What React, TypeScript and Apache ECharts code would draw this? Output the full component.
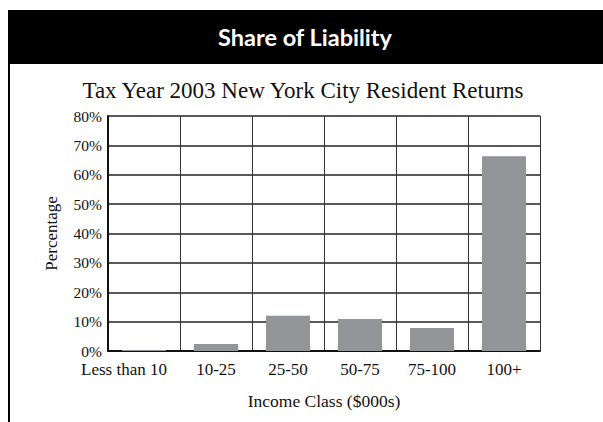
import React, { useEffect, useRef } from "react";
import * as echarts from "echarts";

const categories = ["Less than 10", "10-25", "25-50", "50-75", "75-100", "100+"];
const shareValues = [0.3, 2.4, 12.0, 10.9, 7.8, 66.3];
const yTicks = { min: 0, max: 80, interval: 10 };

const serif = "'Liberation Serif', 'DejaVu Serif', serif";

export default function App() {
  const ref = useRef<HTMLDivElement>(null);
  useEffect(() => {
    if (!ref.current) return;
    const chart = echarts.init(ref.current, undefined, { renderer: "svg" });
    chart.setOption({
      animation: false,
      backgroundColor: "#ffffff",
      graphic: [
        { type: "rect", shape: { x: 8, y: 10, width: 595, height: 54 }, style: { fill: "#000" }, silent: true },
        { type: "rect", shape: { x: 8, y: 64, width: 2, height: 358 }, style: { fill: "#000" }, silent: true },
        {
          type: "text",
          x: 305,
          y: 37,
          style: {
            text: "Share of Liability",
            fill: "#fff",
            font: "bold 23.5px Lato, 'Open Sans', sans-serif",
            textAlign: "center",
            textVerticalAlign: "middle",
          },
        },
        {
          type: "text",
          x: 303,
          y: 90,
          style: {
            text: "Tax Year 2003 New York City Resident Returns",
            fill: "#111",
            font: `23px ${serif}`,
            textAlign: "center",
            textVerticalAlign: "middle",
          },
        },
      ],
      grid: { left: 108, top: 116, right: 63, bottom: 71, containLabel: false },
      xAxis: {
        type: "category",
        data: categories.map((c, i) =>
          i === 0 ? { value: c, textStyle: { padding: [0, 40, 0, 0] } } : c
        ),
        name: "Income Class ($000s)",
        nameLocation: "middle",
        nameGap: 41,
        nameTextStyle: { fontFamily: serif, fontSize: 17.5, color: "#111" },
        axisLine: { lineStyle: { color: "#111", width: 2 } },
        axisTick: { show: false },
        axisLabel: { fontFamily: serif, fontSize: 17, color: "#111", margin: 10, interval: 0 },
        splitLine: { show: true, interval: 0, lineStyle: { color: "#333", width: 1 } },
      },
      yAxis: {
        type: "value",
        min: yTicks.min,
        max: yTicks.max,
        interval: yTicks.interval,
        name: "Percentage",
        nameLocation: "middle",
        nameGap: 48,
        nameTextStyle: { fontFamily: serif, fontSize: 17, color: "#111" },
        axisLine: { show: true, lineStyle: { color: "#111", width: 2 } },
        axisTick: { show: false },
        axisLabel: { fontFamily: serif, fontSize: 15.5, color: "#111", formatter: "{value}%", margin: 6 },
        splitLine: { show: true, lineStyle: { color: "#222", width: 1.5 } },
      },
      series: [
        {
          type: "bar",
          data: shareValues,
          barWidth: 44,
          itemStyle: { color: "#939598" },
        },
      ],
    });
    return () => chart.dispose();
  }, []);
  return (
    <div
      ref={ref}
      style={{ position: "absolute", left: 0, top: 0, width: 603, height: 422 }}
    />
  );
}
